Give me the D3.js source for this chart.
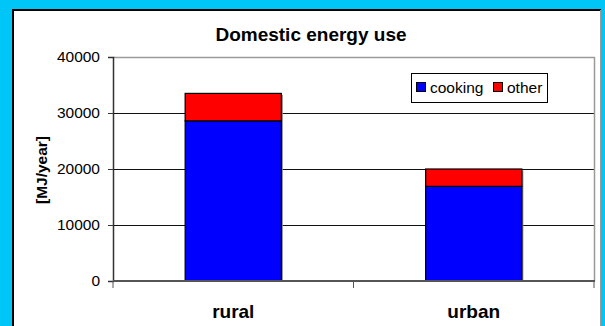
<!DOCTYPE html>
<html>
<head>
<meta charset="utf-8">
<script src="https://cdn.jsdelivr.net/npm/d3@7"></script>
<style>
  html, body { margin: 0; padding: 0; background: #00c5f7; }
  svg { display: block; font-family: Arial, "Liberation Sans", sans-serif; }
</style>
</head>
<body>
<div id="chart"></div>
<script>
// values
var categories = ["rural", "urban"];
var seriesNames = ["cooking", "other"];
var cooking = [28600, 16900];
var other = [4900, 3100];
var yTicks = [0, 10000, 20000, 30000, 40000];
var colors = ["#0000ff", "#ff0000"];

function drawChart(selector){

    var width = 605, height = 326,
    plot = {left: 113, right: 594, top: 57, bottom: 281};

    d3.select(selector).html(null)

    var svg = d3.select(selector)
        .append("svg")
        .attr("width", width)
        .attr("height", height)

    // cyan frame + white panel
    svg.append("rect")
        .attr("x", 0).attr("y", 0)
        .attr("width", width).attr("height", height)
        .attr("fill", "#00c5f7")

    svg.append("rect")
        .attr("x", 13).attr("y", 10)
        .attr("width", 587).attr("height", 330)
        .attr("fill", "#fff")

    svg.append("path")
        .attr("d", "M13,330 V10 H601")
        .attr("fill", "none")
        .attr("stroke", "#000")
        .attr("stroke-width", 2)

    svg.append("line")
        .attr("x1", 600.5).attr("x2", 600.5)
        .attr("y1", 10).attr("y2", 330)
        .attr("stroke", "#9a9a9a")

    var x = d3.scaleBand()
        .domain(categories)
        .range([plot.left, plot.right])
        .paddingInner(0.6)
        .paddingOuter(0.3)

    var y = d3.scaleLinear()
        .domain([0, 40000])
        .range([plot.bottom, plot.top])

    // gridlines
    svg.selectAll(".grid")
        .data(yTicks.filter(function(t){ return t > 0 && t < 40000; }))
        .enter().append("line")
        .attr("x1", plot.left).attr("x2", plot.right)
        .attr("y1", function(d){ return Math.round(y(d)) + 0.5; })
        .attr("y2", function(d){ return Math.round(y(d)) + 0.5; })
        .attr("stroke", "#111")

    // plot border top / right
    svg.append("path")
        .attr("d", "M" + plot.left + "," + (plot.top + 0.5) + " H" + (plot.right + 0.5) + " V" + plot.bottom)
        .attr("fill", "none")
        .attr("stroke", "#9a9a9a")
        .attr("stroke-width", 1.5)

    // stacked bars
    var stackData = categories.map(function(c, i){
        return {cat: c, cooking: cooking[i], other: other[i]};
    })
    var stack = d3.stack().keys(seriesNames)(stackData)

    // slight shadow on the right of each bar
    svg.selectAll(".shadow")
        .data(stackData)
        .enter().append("rect")
        .attr("x", function(d){ return x(d.cat) + 1.5; })
        .attr("y", function(d){ return y(d.cooking + d.other) + 1.5; })
        .attr("width", x.bandwidth())
        .attr("height", function(d){ return y(0) - y(d.cooking + d.other) - 1.5; })
        .attr("fill", "#888")

    svg.selectAll(".layer")
        .data(stack).enter().append("g")
        .attr("fill", function(d, i){ return colors[i]; })
        .selectAll("rect")
        .data(function(d){ return d; })
        .enter().append("rect")
        .attr("x", function(d){ return x(d.data.cat); })
        .attr("y", function(d){ return y(d[1]); })
        .attr("width", x.bandwidth())
        .attr("height", function(d){ return y(d[0]) - y(d[1]); })
        .attr("stroke", "#000")
        .attr("stroke-width", 1.2)

    // y axis
    var yAxis = svg.append("g")
        .attr("transform", "translate(" + plot.left + ",0)")
        .call(d3.axisLeft(y).tickValues(yTicks).tickFormat(d3.format("d")).tickSize(5).tickPadding(8))
    yAxis.select(".domain").attr("stroke", "#333").attr("stroke-width", 1.5)
    yAxis.selectAll(".tick line").attr("stroke", "#333")
    yAxis.selectAll("text")
        .attr("font-size", "15.5px")
        .attr("fill", "#000")
        .attr("font-family", "Arial, 'Liberation Sans', sans-serif")

    // x axis
    var xAxis = svg.append("g")
        .attr("transform", "translate(0," + plot.bottom + ")")
    xAxis.append("line")
        .attr("x1", plot.left).attr("x2", plot.right + 1)
        .attr("y1", 0).attr("y2", 0)
        .attr("stroke", "#555")
        .attr("stroke-width", 2)
    var edges = [plot.left, (plot.left + plot.right) / 2, plot.right]
    xAxis.selectAll(".xtick")
        .data(edges).enter().append("line")
        .attr("x1", function(d){ return d; }).attr("x2", function(d){ return d; })
        .attr("y1", 0).attr("y2", 7)
        .attr("stroke", "#555")
    xAxis.selectAll(".xlabel")
        .data(categories).enter().append("text")
        .attr("x", function(d){ return x(d) + x.bandwidth() / 2; })
        .attr("y", 37)
        .attr("text-anchor", "middle")
        .attr("font-size", "19px")
        .attr("font-weight", "bold")
        .text(function(d){ return d; })

    // title
    svg.append("text")
        .attr("x", 311)
        .attr("y", 41)
        .attr("text-anchor", "middle")
        .attr("font-size", "19px")
        .attr("font-weight", "bold")
        .text("Domestic energy use")

    // y label
    svg.append("text")
        .attr("transform", "translate(47,170) rotate(-90)")
        .attr("text-anchor", "middle")
        .attr("font-size", "15.5px")
        .attr("font-weight", "bold")
        .text("[MJ/year]")

    // legend
    var legend = svg.append("g")
    legend.append("rect")
        .attr("x", 411.5).attr("y", 73.5)
        .attr("width", 136).attr("height", 29)
        .attr("fill", "#fff")
        .attr("stroke", "#000")
    var legX = [416, 493]
    seriesNames.forEach(function(s, i){
        legend.append("rect")
            .attr("x", legX[i] + 0.5).attr("y", 82.5)
            .attr("width", 9).attr("height", 9)
            .attr("fill", colors[i])
            .attr("stroke", "#000")
        legend.append("text")
            .attr("x", legX[i] + 14)
            .attr("y", 93)
            .attr("font-size", "15.5px")
            .text(s)
    })
}

drawChart("#chart")
</script>
</body>
</html>
